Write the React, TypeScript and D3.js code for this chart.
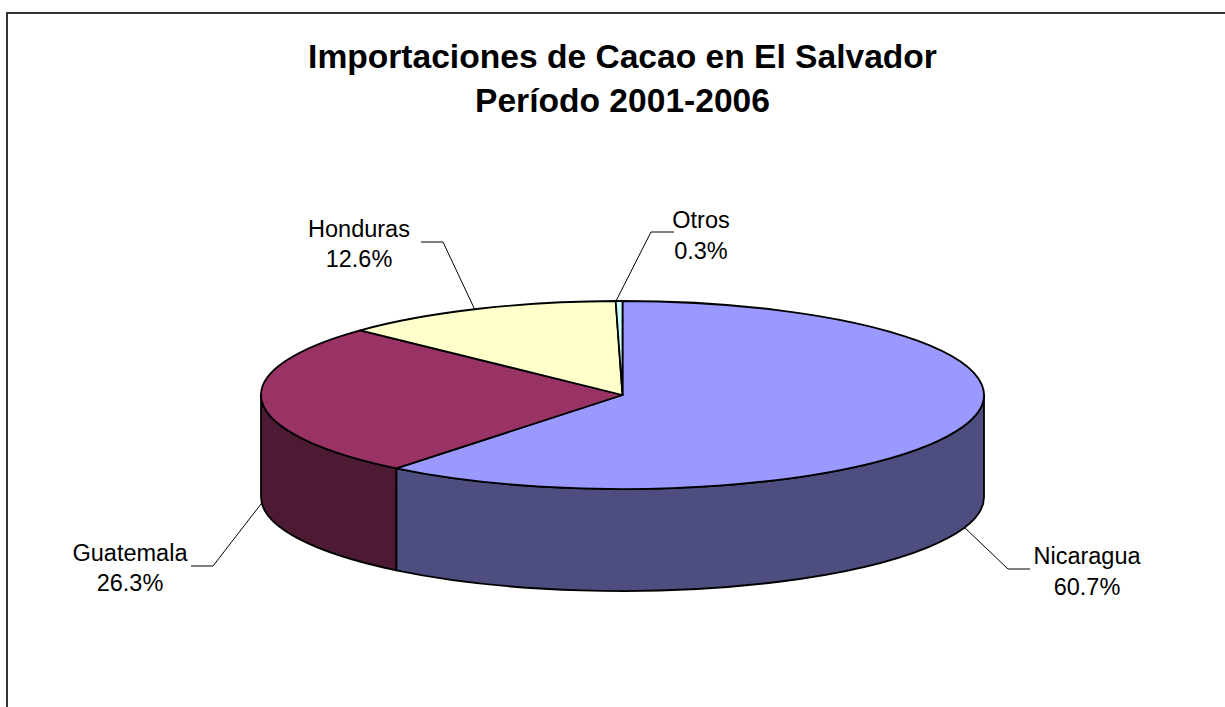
import React from "react";
import * as d3 from "d3";

const categories = ["Nicaragua", "Guatemala", "Honduras", "Otros"];
const shares = [60.7, 26.3, 12.6, 0.3];
const shareLabels = ["60.7%", "26.3%", "12.6%", "0.3%"];
const topColors = ["#9999FF", "#993366", "#FFFFCC", "#CCFFFF"];
const sideColors = ["#4D4D80", "#4D1A33", "#808066", "#668080"];
const titleLines = ["Importaciones de Cacao en El Salvador", "Período 2001-2006"];

const W = 1225;
const H = 707;
const cx = 622.5;
const cy = 395;
const rx = 361.5;
const ry = 94;
const depth = 102;
const FONT = "'Liberation Sans', Arial, sans-serif";

// Label and leader placement, by category
const labelPos: [number, number][] = [[1087, 564], [130, 560.5], [359, 236.5], [701, 228]];
const leaders: [number, number][][] = [
  [[964, 527], [1008, 569], [1030, 569]],
  [[261, 504], [213, 566], [191, 566]],
  [[475, 310], [443, 242], [421, 242]],
  [[616, 301], [651, 232], [674, 232]],
];

const pie = d3.pie<number>().sort(null).value((d) => d);
const arcs = pie(shares);
const arcGen = d3.arc<d3.PieArcDatum<number>>().innerRadius(0).outerRadius(rx);

const px = (a: number) => cx + rx * Math.sin(a);
const py = (a: number) => cy - ry * Math.cos(a);

function sidePath(a0: number, a1: number): string | null {
  const s = Math.max(a0, Math.PI / 2);
  const e = Math.min(a1, (3 * Math.PI) / 2);
  if (e <= s) return null;
  const x0 = px(s), y0 = py(s), x1 = px(e), y1 = py(e);
  return `M${x0},${y0}A${rx},${ry} 0 0 1 ${x1},${y1}L${x1},${y1 + depth}A${rx},${ry} 0 0 0 ${x0},${y0 + depth}Z`;
}

const line = d3.line();

export default function App() {
  return (
    <svg
      width={W}
      height={H}
      viewBox={`0 0 ${W} ${H}`}
      style={{ position: "absolute", left: 0, top: 0, background: "#fff" }}
      fontFamily={FONT}
    >
      <path d={`M7,${H}V13H${W}`} fill="none" stroke="#333" strokeWidth={2} />
      <g textAnchor="middle" fontWeight="bold" fontSize={33.6} fill="#000">
        {titleLines.map((t, i) => (
          <text key={t} x={622.5} y={68 + i * 44}>{t}</text>
        ))}
      </g>
      {arcs.map((a, i) => {
        const d = sidePath(a.startAngle, a.endAngle);
        return d ? <path key={i} d={d} fill={sideColors[i]} stroke="#000" strokeWidth={1.8} strokeLinejoin="round" /> : null;
      })}
      <g transform={`translate(${cx},${cy}) scale(1,${ry / rx})`}>
        {arcs.map((a, i) => (
          <path
            key={i}
            d={arcGen(a) as string}
            fill={topColors[i]}
            stroke="#000"
            strokeWidth={1.8}
            strokeLinejoin="round"
            vectorEffect="non-scaling-stroke"
          />
        ))}
      </g>
      {leaders.map((pts, i) => (
        <path key={i} d={line(pts) as string} fill="none" stroke="#000" strokeWidth={1} />
      ))}
      <g textAnchor="middle" fontSize={23.5} fill="#000">
        {categories.map((c, i) => (
          <text key={c} x={labelPos[i][0]} y={labelPos[i][1]}>
            <tspan x={labelPos[i][0]}>{c}</tspan>
            <tspan x={labelPos[i][0]} dy={30.5}>{shareLabels[i]}</tspan>
          </text>
        ))}
      </g>
    </svg>
  );
}
